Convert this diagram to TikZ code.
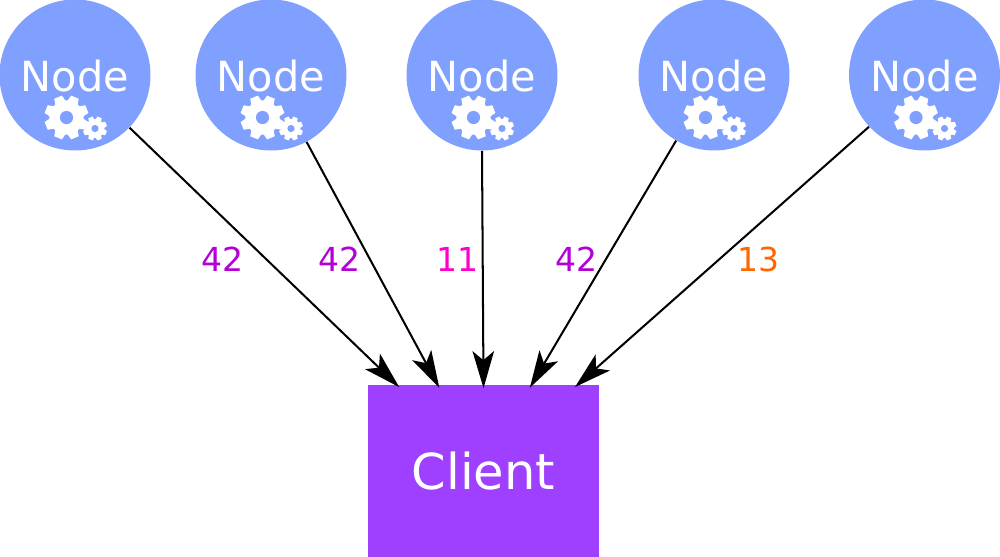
\documentclass[tikz,border=0pt]{standalone}
\usepackage{fontspec}
\setmainfont{DejaVu Sans}
\usetikzlibrary{arrows.meta, positioning}
\definecolor{nodeblue}{HTML}{80A0FF}
\definecolor{clientpurple}{HTML}{9F3FFF}
\definecolor{countpurple}{HTML}{B400D8}
\definecolor{countpink}{HTML}{FF00CC}
\definecolor{countorange}{HTML}{FF6600}
% Rueda dentada: centro, radio
\newcommand{\gearwheel}[2]{
  \begin{scope}[shift={#1}, scale=#2]
    \fill [white] (0,0) circle (0.78);
    \foreach \a in {0,45,...,315}
      \fill [white, rotate=\a+22.5] (-0.27,0.6) -- (-0.19,1) -- (0.19,1) -- (0.27,0.6) -- cycle;
    \fill [nodeblue] (0,0) circle (0.3);
  \end{scope}
}
\tikzset{
  gears/.pic={
    \gearwheel{(-0.17,-0.85)}{0.44}
    \gearwheel{(0.40,-1.07)}{0.24}
  }
}

\begin{document}
\begin{tikzpicture}[>=Stealth]
        \tikzstyle{nodecircle} = [circle, fill=nodeblue, text=white, minimum size=3.02cm, inner sep=0pt, text height=19.2pt, text depth=0pt, font=\fontsize{23.6}{28}\selectfont]
        \tikzstyle{clientbox} = [rectangle, fill=clientpurple, text=white, minimum width=4.62cm, minimum height=3.44cm, inner sep=0pt, font=\fontsize{28.2}{34}\selectfont]
        \tikzstyle{count} = [inner sep=0pt, font=\fontsize{18.8}{22}\selectfont]
        \tikzstyle{link} = [-{Stealth[length=0.74cm, width=0.43cm, inset=0.18cm]}, line width=1.15pt, shorten >=-2pt]

        \useasboundingbox (0,0) rectangle (20,-11.14);

        % Nodes
        \node at (1.5,-1.5) [nodecircle] (node1) {Node};
        \node [nodecircle, on grid, right=3.92cm of node1] (node2) {Node};
        \node [nodecircle, on grid, right=4.22cm of node2] (node3) {Node};
        \node [nodecircle, on grid, right=4.64cm of node3] (node4) {Node};
        \node [nodecircle, on grid, right=4.21cm of node4] (node5) {Node};
        \node [clientbox, on grid, below right=7.92cm and 0.03cm of node3] (client) {Client};

        % Gears
        \pic at (node1) {gears};
        \pic at (node2) {gears};
        \pic at (node3) {gears};
        \pic at (node4) {gears};
        \pic at (node5) {gears};

        % Puntos de llegada sobre el cliente
        \coordinate [on grid, right=0.58cm of client.north west] (target1);
        \coordinate [on grid, right=1.4cm of client.north west] (target2);
        \coordinate [on grid, above=0cm of client.north] (target3);
        \coordinate [on grid, right=3.28cm of client.north west] (target4);
        \coordinate [on grid, right=4.2cm of client.north west] (target5);

        % Labels
        \node [count, on grid, below right=3.68cm and 2.96cm of node1, text=countpurple] (count1) {42};
        \node [count, on grid, below right=3.68cm and 1.38cm of node2, text=countpurple] (count2) {42};
        \node [count, on grid, below left=3.68cm and 0.49cm of node3, text=countpink] (count3) {11};
        \node [count, on grid, below left=3.68cm and 2.74cm of node4, text=countpurple] (count4) {42};
        \node [count, on grid, below left=3.68cm and 3.32cm of node5, text=countorange] (count5) {13};

        % Lines
        \draw [link] (node1.-44) -- (target1);
        \draw [link] (node2.-62) -- (target2);
        \draw [link] (node3.-90) -- (target3);
        \draw [link] (node4.-120) -- (target4);
        \draw [link] (node5.-137) -- (target5);
\end{tikzpicture}
\end{document}
